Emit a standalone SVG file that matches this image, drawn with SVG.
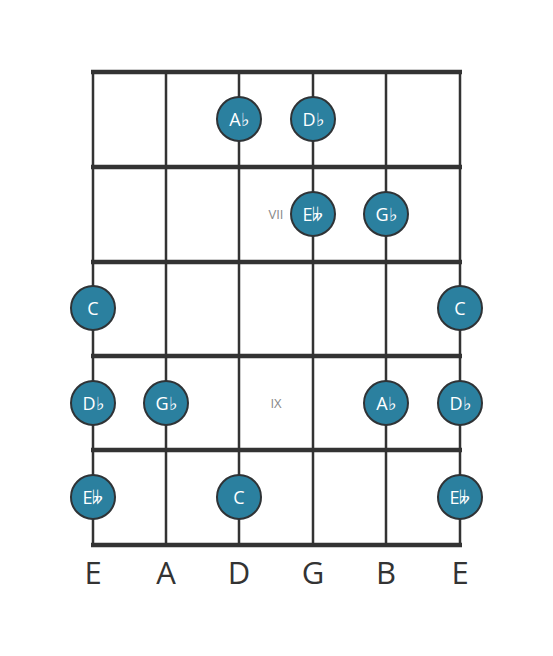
<svg xmlns="http://www.w3.org/2000/svg" width="553" height="656" viewBox="0 0 553 656">
<style>
.fret{stroke:#333;stroke-width:4.5}
.str{stroke:#333;stroke-width:2.5}
.dot{fill:#2b809f;stroke:#2f3336;stroke-width:2}
.nt{fill:#fff;font-family:"Open Sans",sans-serif;font-size:18px;text-anchor:middle;dominant-baseline:central}
.pos{fill:#888;font-family:"Open Sans",sans-serif;font-size:13px;text-anchor:middle;dominant-baseline:central}
.sl{fill:#333;font-family:"Open Sans",sans-serif;font-size:31px;text-anchor:middle}
</style>
<rect width="553" height="656" fill="#fff"/>
<g id="connectors">
<line class="str" x1="93" y1="72" x2="93" y2="545"/>
<line class="str" x1="166" y1="72" x2="166" y2="545"/>
<line class="str" x1="239" y1="72" x2="239" y2="545"/>
<line class="str" x1="313" y1="72" x2="313" y2="545"/>
<line class="str" x1="386" y1="72" x2="386" y2="545"/>
<line class="str" x1="460" y1="72" x2="460" y2="545"/>
<line class="fret" x1="91" y1="72" x2="462" y2="72"/>
<line class="fret" x1="91" y1="167" x2="462" y2="167"/>
<line class="fret" x1="91" y1="262" x2="462" y2="262"/>
<line class="fret" x1="91" y1="356" x2="462" y2="356"/>
<line class="fret" x1="91" y1="450" x2="462" y2="450"/>
<line class="fret" x1="91" y1="545" x2="462" y2="545"/>
</g>
<text class="pos" x="276" y="214">VII</text>
<text class="pos" x="276" y="403">IX</text>
<g id="n1"><circle class="dot" cx="239" cy="119" r="22"/><text class="nt" x="239" y="119">A♭</text></g>
<g id="n2"><circle class="dot" cx="313" cy="119" r="22"/><text class="nt" x="313" y="119">D♭</text></g>
<g id="n3"><circle class="dot" cx="313" cy="214" r="22"/><text class="nt" x="313" y="214">E𝄫</text></g>
<g id="n4"><circle class="dot" cx="386" cy="214" r="22"/><text class="nt" x="386" y="214">G♭</text></g>
<g id="n5"><circle class="dot" cx="93" cy="308" r="22"/><text class="nt" x="93" y="308">C</text></g>
<g id="n6"><circle class="dot" cx="460" cy="308" r="22"/><text class="nt" x="460" y="308">C</text></g>
<g id="n7"><circle class="dot" cx="93" cy="403" r="22"/><text class="nt" x="93" y="403">D♭</text></g>
<g id="n8"><circle class="dot" cx="166" cy="403" r="22"/><text class="nt" x="166" y="403">G♭</text></g>
<g id="n9"><circle class="dot" cx="386" cy="403" r="22"/><text class="nt" x="386" y="403">A♭</text></g>
<g id="n10"><circle class="dot" cx="460" cy="403" r="22"/><text class="nt" x="460" y="403">D♭</text></g>
<g id="n11"><circle class="dot" cx="93" cy="497" r="22"/><text class="nt" x="93" y="497">E𝄫</text></g>
<g id="n12"><circle class="dot" cx="239" cy="497" r="22"/><text class="nt" x="239" y="497">C</text></g>
<g id="n13"><circle class="dot" cx="460" cy="497" r="22"/><text class="nt" x="460" y="497">E𝄫</text></g>
<g id="labels">
<text class="sl" x="93" y="584">E</text>
<text class="sl" x="166" y="584">A</text>
<text class="sl" x="239" y="584">D</text>
<text class="sl" x="313" y="584">G</text>
<text class="sl" x="386" y="584">B</text>
<text class="sl" x="460" y="584">E</text>
</g>
</svg>
